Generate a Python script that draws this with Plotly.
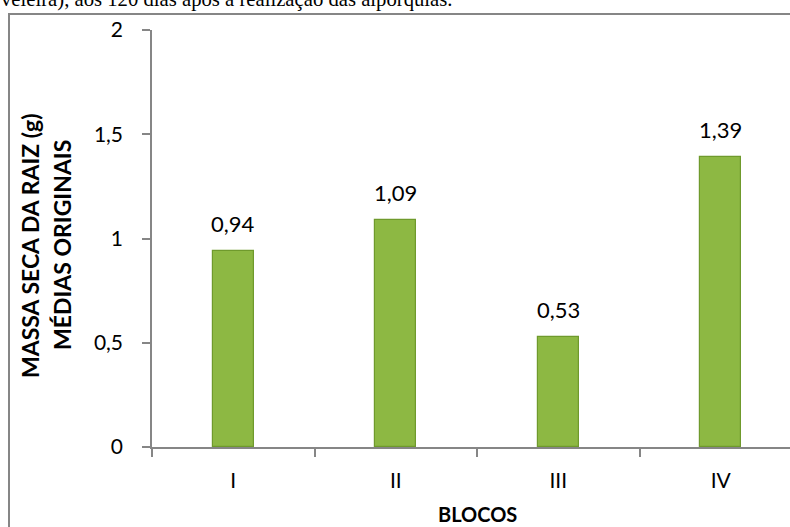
import plotly.graph_objects as go

categories = ["I", "II", "III", "IV"]
values = [0.94, 1.09, 0.53, 1.39]
y_ticks = [0, 0.5, 1, 1.5, 2]

W, H = 790, 527
L, R, T, B = 152, 0, 30, 80
plot_w = W - L - R
plot_h = H - T - B
cat_px = 162.5

def px_x(p):
    return (p - L) / plot_w

def px_y(p):
    return (H - B - p) / plot_h

FONT = "Lato, Carlito, sans-serif"

fig = go.Figure()
fig.add_trace(go.Bar(
    x=categories, y=values, width=0.25,
    marker=dict(color="#8db843", line=dict(color="#6f9a2c", width=1.2)),
    hoverinfo="x+y",
))

# data labels
for c, v in zip(categories, values):
    fig.add_annotation(
        x=c, y=v, xref="x", yref="y",
        text=f"{v:.2f}".replace(".", ","), showarrow=False,
        yanchor="bottom", yshift=12,
        font=dict(family=FONT, size=22, color="#000000"),
    )

x_right = -0.5 + plot_w / cat_px

fig.update_layout(
    width=W, height=H,
    margin=dict(l=L, r=R, t=T, b=B, pad=0),
    paper_bgcolor="white", plot_bgcolor="white",
    separators=",.",
    showlegend=False,
    bargap=0,
    xaxis=dict(
        type="category", range=[-0.5, x_right],
        showline=True, linecolor="#868686", linewidth=2,
        ticks="outside", ticklen=8, tickcolor="#868686", tickwidth=1.5,
        tickson="boundaries", showgrid=False,
        tickfont=dict(family=FONT, size=21, color="#000000"),
        ticklabelstandoff=14,
    ),
    yaxis=dict(
        range=[0, 2], tickvals=y_ticks,
        showline=True, linecolor="#868686", linewidth=1.5,
        ticks="outside", ticklen=8, tickcolor="#868686", tickwidth=1.5,
        showgrid=False, zeroline=False,
        tickfont=dict(family=FONT, size=21, color="#000000"),
        ticklabelstandoff=15,
    ),
)

# axis titles
fig.add_annotation(
    x=1.5, xref="x", y=px_y(514), yref="paper",
    text="<b>BLOCOS</b>", showarrow=False,
    font=dict(family=FONT, size=20, color="#000000"),
    xanchor="center", yanchor="middle",
)
fig.add_annotation(
    x=px_x(30), xref="paper", y=px_y(246), yref="paper",
    text="<b>MASSA SECA DA RAIZ (g)</b>",
    showarrow=False, textangle=-90,
    font=dict(family=FONT, size=23, color="#000000"),
    xanchor="center", yanchor="middle",
)
fig.add_annotation(
    x=px_x(62), xref="paper", y=px_y(245), yref="paper",
    text="<b>MÉDIAS ORIGINAIS</b>",
    showarrow=False, textangle=-90,
    font=dict(family=FONT, size=23, color="#000000"),
    xanchor="center", yanchor="middle",
)

# caption text from the page above (cut off)
fig.add_annotation(
    x=px_x(-1), xref="paper", y=px_y(13), yref="paper",
    text="veleira), aos 120 dias após a realização das alporquias.",
    showarrow=False,
    font=dict(family="Liberation Serif, Times New Roman, serif", size=20.7, color="#000000"),
    xanchor="left", yanchor="bottom",
)

# chart border
fig.add_shape(
    type="rect", xref="paper", yref="paper",
    x0=px_x(9), x1=px_x(900), y0=px_y(700), y1=px_y(14),
    line=dict(color="#868686", width=2), fillcolor="rgba(0,0,0,0)", layer="below",
)

fig.write_html(
    "out.html",
    config={"displayModeBar": False},
    post_script="document.body.style.margin='0';document.body.style.padding='0';",
)
